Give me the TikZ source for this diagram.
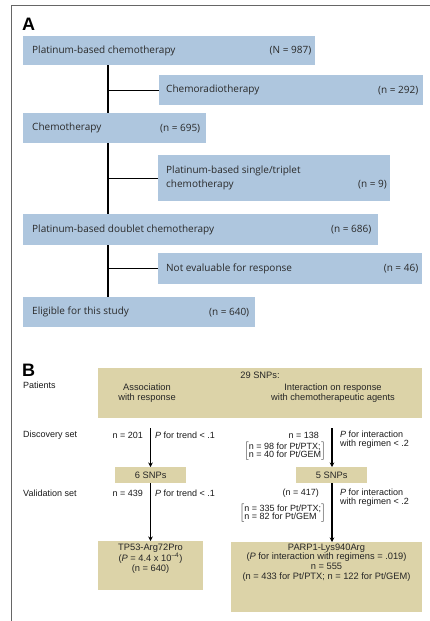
\documentclass[tikz,border=0pt]{standalone}
\usepackage{fontspec}
\newfontfamily\afont{Open Sans}
\newfontfamily\bfont{Liberation Sans}
\usetikzlibrary{arrows.meta}
\definecolor{boxblue}{HTML}{AEC6DE}
\definecolor{boxtan}{HTML}{DCD3A8}
\definecolor{txtA}{HTML}{2A2A2A}
\definecolor{frameg}{HTML}{666666}
\tikzset{
  abox/.style={fill=boxblue, draw=none, anchor=north west, inner sep=0pt},
  atxt/.style={font=\afont\fontsize{10}{12}\selectfont, text=txtA, inner sep=0pt},
  conn/.style={line width=1.2pt, black},
  tbox/.style={fill=boxtan, draw=none, anchor=north west, inner sep=0pt},
  btxt/.style={font=\bfont\fontsize{9}{9.5}\selectfont, text=black!90, inner sep=0pt},
  boxtxt/.style={font=\bfont\fontsize{9.3}{9.7}\selectfont, text=black!85, inner sep=0pt, align=center},
  arr/.style={line width=1.3pt, black, -{Stealth[length=4.5pt,width=4.5pt]}},
  plabel/.style={font=\bfont\bfseries\fontsize{18}{18}\selectfont, inner sep=0pt, anchor=west}
}
\begin{document}
\begin{tikzpicture}[x=1pt,y=-1pt]
\useasboundingbox (0,0) rectangle (429,621);
% frame
\draw[frameg, line width=0.9pt] (11,630) -- (11,5) -- (440,5);
% ---------- Panel A ----------
\node[plabel] (labA) at (22,24) {A};
\coordinate (trunk) at (108,0);
\node[abox, minimum width=292pt, minimum height=29pt] (b1) at (23,36) {};
\node[atxt, anchor=west] (t1) at ([xshift=9pt]b1.west) {Platinum-based chemotherapy};
\node[atxt, anchor=east] (n1) at ([xshift=-4pt]b1.east) {(N = 987)};
\node[abox, minimum width=264pt, minimum height=30pt] (b2) at (159,75) {};
\node[atxt, anchor=west] (t2) at ([xshift=7pt]b2.west) {Chemoradiotherapy};
\node[atxt, anchor=east] (n2) at ([xshift=-5pt]b2.east) {(n = 292)};
\node[abox, minimum width=183pt, minimum height=30pt] (b3) at (23,113) {};
\node[atxt, anchor=west] (t3) at ([xshift=9pt]b3.west) {Chemotherapy};
\node[atxt, anchor=east] (n3) at ([xshift=-6pt]b3.east) {(n = 695)};
\node[abox, minimum width=232pt, minimum height=46pt] (b4) at (158,155) {};
\node[atxt, anchor=west] (t4a) at (166,171) {Platinum-based single/triplet};
\node[atxt, anchor=west] (t4b) at (166,185) {chemotherapy};
\node[atxt, anchor=east] (n4) at (387,185) {(n = 9)};
\node[abox, minimum width=355pt, minimum height=31pt] (b5) at (23,214) {};
\node[atxt, anchor=west] (t5) at ([xshift=9pt]b5.west) {Platinum-based doublet chemotherapy};
\node[atxt, anchor=east] (n5) at ([xshift=-7pt]b5.east) {(n = 686)};
\node[abox, minimum width=264pt, minimum height=31pt] (b6) at (158,253) {};
\node[atxt, anchor=west] (t6) at ([xshift=8pt]b6.west) {Not evaluable for response};
\node[atxt, anchor=east] (n6) at ([xshift=-4pt]b6.east) {(n = 46)};
\node[abox, minimum width=232pt, minimum height=30pt] (b7) at (23,297) {};
\node[atxt, anchor=west] (t7) at ([xshift=9pt]b7.west) {Eligible for this study};
\node[atxt, anchor=east] (n7) at ([xshift=-6pt]b7.east) {(n = 640)};
\draw[conn] (b1.south -| trunk) -- (b3.north -| trunk);
\draw[conn] (trunk |- b2.west) -- (b2.west);
\draw[conn] (b3.south -| trunk) -- (b5.north -| trunk);
\draw[conn] (trunk |- b4.west) -- (b4.west);
\draw[conn] (b5.south -| trunk) -- (b7.north -| trunk);
\draw[conn] (trunk |- b6.west) -- (b6.west);
% ---------- Panel B ----------
\node[plabel] (labB) at (22,370) {B};
\node[tbox, minimum width=324pt, minimum height=50pt] (top) at (98,368) {};
\node[boxtxt] (snp29) at (260,375) {29 SNPs:};
\node[boxtxt] (assoc) at (147,393) {Association\\with response};
\node[boxtxt] (inter) at (333,393) {Interaction on response\\with chemotherapeutic agents};
\node[btxt, anchor=west] (pat) at (23,385) {Patients};
\node[btxt, anchor=west] (disc) at (23,435) {Discovery set};
\node[btxt, anchor=west] (vali) at (23,493) {Validation set};
% discovery
\node[btxt, anchor=east] (n201) at (143,435) {n = 201};
\node[btxt, anchor=west] (pt1) at (155,435) {\itshape P\upshape{} for trend < .1};
\node[btxt, anchor=east] (n138) at (319,435) {n = 138};
\node[btxt, anchor=east] (br1) at (326,451.5) {$\left[\mbox{\begin{tabular}{@{}l@{}}n = 98 for Pt/PTX;\\[-1.2pt] n = 40 for Pt/GEM\end{tabular}}\right]$};
\node[btxt, anchor=west, align=left] (pi1) at (340,439.5) {\itshape P\upshape{} for interaction\\with regimen < .2};
\node[tbox, minimum width=71pt, minimum height=16pt] (s6) at (115,467) {};
\node[boxtxt] (s6t) at (s6.center) {6 SNPs};
\node[tbox, minimum width=71pt, minimum height=16pt] (s5) at (296,467) {};
\node[boxtxt] (s5t) at (s5.center) {5 SNPs};
\coordinate (aL) at (150.5,428);
\coordinate (aR) at (332,428);
\draw[arr] (aL) -- (aL |- s6.north);
\draw[arr] (aR) -- (aR |- s5.north);
% validation
\node[btxt, anchor=east] (n439) at (143,493) {n = 439};
\node[btxt, anchor=west] (pt2) at (155,493) {\itshape P\upshape{} for trend < .1};
\node[btxt, anchor=east] (n417) at (319,493) {(n = 417)};
\node[btxt, anchor=east] (br2) at (326,513.5) {$\left[\mbox{\begin{tabular}{@{}l@{}}n = 335 for Pt/PTX;\\[-1.2pt] n = 82 for Pt/GEM\end{tabular}}\right]$};
\node[btxt, anchor=west, align=left] (pi2) at (340,497.5) {\itshape P\upshape{} for interaction\\with regimen < .2};
\node[tbox, minimum width=105pt, minimum height=49pt] (tp53) at (98,541) {};
\node[boxtxt, anchor=north] (tp53t) at (150.5,543.5) {TP53-Arg72Pro\\(\itshape P\upshape{} = 4.4 x 10\textsuperscript{–4})\\(n = 640)};
\node[tbox, minimum width=191pt, minimum height=70pt] (parp) at (231,542) {};
\node[boxtxt, anchor=north] (parpt) at (326.5,543.5) {PARP1-Lys940Arg\\(\itshape P\upshape{} for interaction with regimens = .019)\\n = 555\\(n = 433 for Pt/PTX; n = 122 for Pt/GEM)};
\draw[arr] (aL |- s6.south) -- (aL |- tp53.north);
\draw[arr] (aR |- s5.south) -- (aR |- parp.north);
\end{tikzpicture}
\end{document}
